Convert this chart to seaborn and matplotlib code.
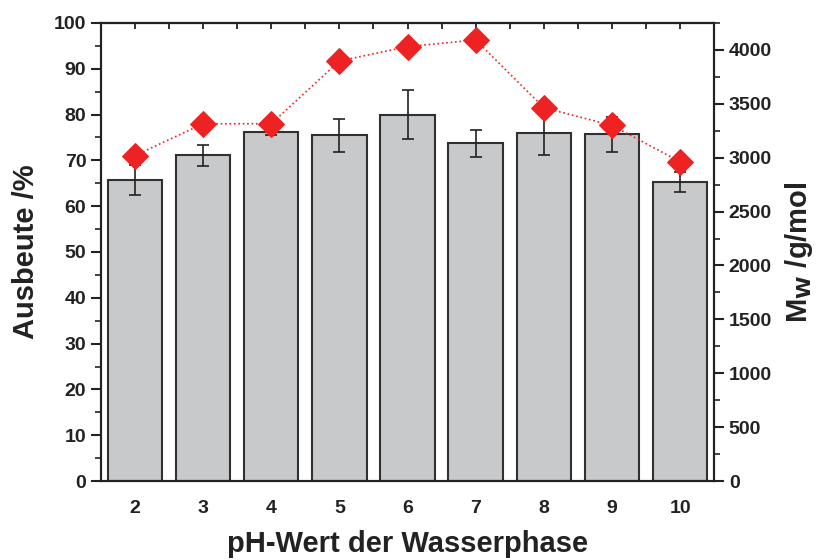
import numpy as np
import pandas as pd
import matplotlib
matplotlib.use("Agg")
import matplotlib.pyplot as plt
import seaborn as sns
from matplotlib.ticker import MultipleLocator

ph = [2, 3, 4, 5, 6, 7, 8, 9, 10]
ausbeute = [65.7, 71.1, 76.3, 75.5, 80.0, 73.7, 76.0, 75.7, 65.2]
ausbeute_err = [3.35, 2.3, 0.8, 3.6, 5.35, 2.9, 4.9, 3.8, 2.2]
mw = [3020, 3315, 3315, 3897, 4031, 4092, 3464, 3299, 2962]

sns.set_theme(style="white")
plt.rcParams['font.family'] = ['Liberation Sans', 'DejaVu Sans']
plt.rcParams['font.weight'] = 'bold'
plt.rcParams['mathtext.default'] = 'bf'

df = pd.DataFrame({"pH": ph, "Ausbeute": ausbeute, "err": ausbeute_err, "Mw": mw})

fig = plt.figure(figsize=(8.2, 5.6), dpi=100)
ax = fig.add_axes([0.123, 0.141, 0.748, 0.818])

dark = "#222222"

sns.barplot(data=df, x="pH", y="Ausbeute", native_scale=True, width=0.8,
            color="#c8c9cb", saturation=1, edgecolor="#303030", linewidth=1.5,
            errorbar=None, ax=ax)
ax.errorbar(df["pH"], df["Ausbeute"], yerr=df["err"], fmt="none",
            ecolor=dark, elinewidth=1.2, capsize=4.5, capthick=1.2, zorder=3)

ax.set_xlim(1.5, 10.5)
ax.set_ylim(0, 100)
ax.set_xticks(ph)
ax.set_xticklabels([str(v) for v in ph])
ax.xaxis.set_minor_locator(MultipleLocator(0.5))
ax.yaxis.set_major_locator(MultipleLocator(10))
ax.yaxis.set_minor_locator(MultipleLocator(5))
ax.tick_params(axis="both", which="major", direction="out", length=7, width=1.5,
               labelsize=14, colors=dark)
ax.tick_params(axis="y", which="minor", direction="out", length=4, width=1.2,
               colors=dark)
ax.tick_params(axis="x", which="minor", direction="in", length=3, width=1.2,
               colors=dark)
ax.tick_params(axis="x", which="major", pad=7)
for lab in ax.get_xticklabels() + ax.get_yticklabels():
    lab.set_fontweight("bold")
ax.set_xlabel("pH-Wert der Wasserphase", fontsize=21, fontweight="bold",
              labelpad=9, color=dark)
ax.set_ylabel("Ausbeute /%", fontsize=21, fontweight="bold", labelpad=10,
              color=dark)
for s in ax.spines.values():
    s.set_linewidth(1.5)
    s.set_color(dark)

sec = ax.secondary_xaxis("top")
sec.set_xticks(ph)
sec.xaxis.set_minor_locator(MultipleLocator(0.5))
sec.tick_params(axis="x", which="both", direction="in", length=4, width=1.3,
                labeltop=False, colors=dark)
sec.spines["top"].set_linewidth(1.5)
sec.spines["top"].set_color(dark)

ax2 = ax.twinx()
sns.lineplot(data=df, x="pH", y="Mw", ax=ax2, color="#ee2222", linestyle=":",
             linewidth=1.2, marker="D", markersize=13, markeredgecolor="#ee2222",
             zorder=5)
ax2.set_ylim(0, 4250)
ax2.yaxis.set_major_locator(MultipleLocator(500))
ax2.yaxis.set_minor_locator(MultipleLocator(250))
ax2.tick_params(axis="y", which="major", direction="out", length=7, width=1.5,
                labelsize=14, colors=dark)
ax2.tick_params(axis="y", which="minor", direction="out", length=4, width=1.2,
                colors=dark)
for lab in ax2.get_yticklabels():
    lab.set_fontweight("bold")
ax2.set_ylabel(r"M$_\mathrm{W}$ /g/mol", fontsize=21, fontweight="bold",
               labelpad=8, color=dark)
ax2.set_xlim(1.5, 10.5)
for s in ax2.spines.values():
    s.set_linewidth(1.5)
    s.set_color(dark)

fig.savefig("out.png", dpi=100)
